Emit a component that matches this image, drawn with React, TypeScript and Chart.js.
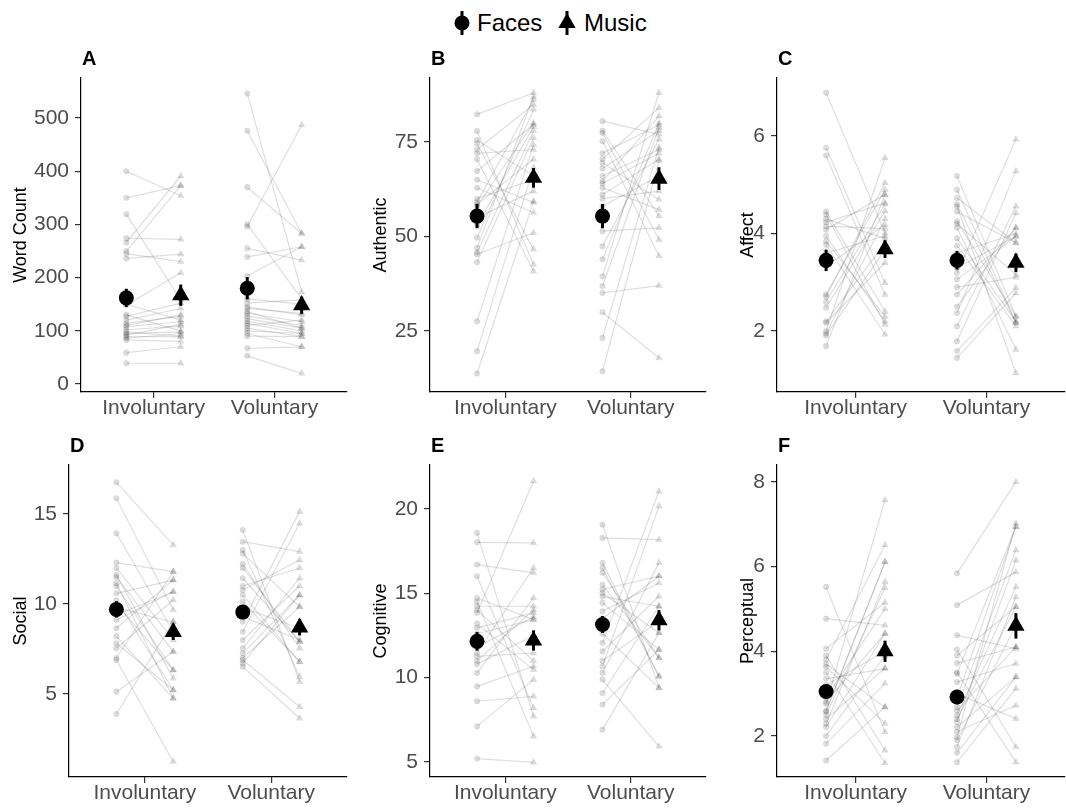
import React, { useEffect, useRef } from "react";
import { Chart, registerables } from "chart.js";

Chart.register(...registerables);

const FONT = '"Liberation Sans", Arial, Helvetica, sans-serif';
const conditions = ["Involuntary", "Voluntary"];
const legendLabels = ["Faces", "Music"];

// ---------- A: Word Count ----------
const wordInvFaces = [400, 350, 319, 274, 266, 250, 236, 245, 148, 127, 120, 114, 108, 102, 95, 89, 83, 59, 39, 150, 130, 110, 98, 92, 86];
const wordInvMusic = [354, 373, 158, 272, 391, 373, 244, 230, 209, 152, 142, 127, 117, 109, 98, 89, 80, 70, 39, 120, 100, 130, 90, 112, 95];
const wordVolFaces = [546, 476, 370, 296, 255, 239, 203, 152, 142, 133, 123, 114, 105, 95, 67, 53, 160, 128, 118, 100, 110, 90, 300, 145, 136];
const wordVolMusic = [173, 283, 283, 487, 233, 258, 258, 158, 133, 117, 105, 95, 89, 70, 70, 20, 150, 110, 100, 95, 120, 89, 160, 130, 105];
const wordMeans = [162, 167, 180, 148];
const wordSE = [17, 20, 21, 16];
const wordTicks = [0, 100, 200, 300, 400, 500];

// ---------- B: Authentic ----------
const authInvFaces = [82.3, 77.9, 74.6, 73.0, 70.4, 67.3, 62.9, 59.1, 58.5, 49.7, 45.8, 45.3, 43.2, 27.6, 19.7, 13.8, 72.0, 60.0, 55.0, 53.0, 65.0, 47.0, 75.5, 58.0];
const authInvMusic = [88.0, 42.6, 46.6, 84.9, 40.8, 79.6, 56.3, 86.2, 70.4, 83.6, 77.9, 51.0, 76.1, 74.3, 68.2, 59.3, 73.0, 65.0, 62.0, 79.0, 59.0, 87.0, 66.0, 80.0];
const authVolFaces = [80.5, 77.4, 75.2, 70.5, 69.5, 66.0, 64.6, 62.9, 61.1, 51.4, 47.4, 39.5, 36.9, 35.1, 30.0, 23.2, 14.4, 78.0, 72.0, 60.0, 68.0, 58.0, 44.0, 64.0];
const authVolMusic = [77.0, 49.2, 44.9, 84.0, 59.8, 73.0, 81.8, 57.1, 70.4, 52.3, 75.7, 88.0, 78.8, 37.0, 17.9, 73.5, 70.0, 55.4, 79.5, 62.0, 78.0, 66.0, 80.0, 72.0];
const authMeans = [55.4, 65.5, 55.4, 65.3];
const authSE = [3.2, 2.6, 3.2, 3.0];
const authTicks = [25, 50, 75];

// ---------- C: Affect ----------
const affInvFaces = [6.89, 5.76, 5.6, 4.39, 4.23, 4.08, 3.84, 3.77, 3.33, 2.71, 2.48, 2.17, 2.0, 1.91, 1.69, 4.3, 3.95, 4.15, 2.75, 2.2, 3.6, 4.45, 2.6, 1.95];
const affInvMusic = [4.01, 2.99, 2.75, 2.13, 4.63, 4.8, 2.3, 1.93, 4.18, 5.04, 4.46, 3.4, 5.55, 3.67, 4.8, 3.9, 2.2, 4.1, 4.9, 3.8, 3.95, 2.4, 4.6, 4.3];
const affVolFaces = [5.18, 4.9, 4.73, 4.56, 4.25, 4.12, 3.19, 3.06, 2.75, 2.37, 2.1, 1.79, 1.59, 1.45, 4.6, 4.2, 3.6, 3.3, 2.5, 3.9, 4.45, 2.9, 3.75];
const affVolMusic = [2.3, 2.17, 3.81, 1.14, 2.3, 1.62, 5.93, 3.94, 4.12, 5.28, 4.56, 4.42, 2.89, 2.78, 2.17, 3.16, 4.0, 3.94, 4.12, 2.2, 3.81, 3.1, 2.1];
const affMeans = [3.45, 3.68, 3.45, 3.4];
const affSE = [0.22, 0.18, 0.19, 0.19];
const affTicks = [2, 4, 6];

// ---------- D: Social ----------
const socInvFaces = [16.76, 15.87, 13.93, 12.3, 11.61, 11.15, 10.59, 9.11, 8.65, 7.82, 7.54, 6.89, 5.13, 3.89, 11.0, 10.2, 9.4, 12.0, 8.2, 11.5, 10.0, 7.0, 9.8];
const socInvMusic = [13.28, 9.67, 8.46, 11.8, 5.87, 4.76, 11.33, 10.68, 11.33, 5.22, 10.22, 1.24, 7.35, 9.02, 6.33, 5.22, 10.68, 8.0, 4.76, 7.35, 6.33, 11.8, 9.0];
const socVolFaces = [14.11, 13.46, 13.0, 12.22, 11.43, 10.78, 10.13, 9.02, 8.46, 7.54, 7.26, 6.89, 6.52, 12.8, 11.0, 9.8, 8.0, 7.0, 10.5, 12.0, 6.7, 9.3];
const socVolMusic = [5.68, 12.91, 5.96, 7.54, 7.91, 12.44, 6.79, 15.13, 14.48, 11.43, 10.5, 4.29, 3.65, 9.85, 12.0, 8.65, 11.0, 9.85, 6.79, 7.91, 10.5, 8.0];
const socMeans = [9.7, 8.45, 9.55, 8.7];
const socSE = [0.45, 0.45, 0.38, 0.45];
const socTicks = [5, 10, 15];

// ---------- E: Cognitive ----------
const cogInvFaces = [18.58, 18.02, 16.7, 16.01, 14.72, 14.23, 13.84, 12.95, 11.46, 11.26, 10.28, 9.48, 8.6, 7.11, 5.2, 14.5, 12.6, 11.0, 13.2, 10.8, 11.8, 14.0];
const cogInvMusic = [7.71, 17.98, 16.21, 8.2, 13.44, 14.23, 21.64, 13.84, 16.5, 11.46, 14.72, 10.67, 8.89, 9.88, 4.98, 6.52, 13.44, 14.0, 10.47, 12.5, 13.6, 11.0];
const cogVolFaces = [19.07, 18.28, 16.8, 16.21, 15.22, 15.02, 14.43, 13.93, 12.06, 11.56, 10.67, 10.28, 9.88, 9.09, 8.4, 6.92, 15.5, 13.5, 12.6, 14.8, 11.0, 16.5];
const cogVolMusic = [9.39, 18.18, 10.08, 11.17, 16.01, 12.65, 11.66, 15.61, 21.04, 14.82, 20.15, 16.8, 5.93, 14.23, 11.66, 12.65, 11.17, 16.01, 9.39, 14.23, 13.34, 10.08];
const cogMeans = [12.15, 12.2, 13.15, 13.4];
const cogSE = [0.55, 0.6, 0.5, 0.6];
const cogTicks = [5, 10, 15, 20];

// ---------- F: Perceptual ----------
const perInvFaces = [5.52, 4.77, 4.06, 3.8, 3.63, 3.35, 2.76, 2.57, 2.29, 2.21, 1.82, 1.42, 3.9, 3.5, 2.9, 2.4, 3.2, 2.0, 2.6, 3.7, 2.8, 2.5];
const perInvMusic = [2.09, 4.61, 5.15, 6.51, 2.29, 3.59, 7.57, 6.11, 5.64, 4.42, 3.24, 2.68, 1.66, 1.36, 5.0, 3.6, 4.0, 3.9, 6.11, 2.68, 4.42, 5.5];
const perVolFaces = [5.84, 5.09, 4.38, 4.04, 3.72, 3.47, 3.27, 2.68, 2.49, 2.33, 2.21, 1.97, 1.74, 1.38, 3.0, 2.6, 3.9, 2.1, 2.9, 3.5, 1.9, 2.4, 1.6];
const perVolMusic = [8.0, 5.87, 4.06, 1.74, 4.1, 6.94, 3.71, 6.39, 5.52, 6.15, 3.39, 7.02, 5.28, 3.12, 2.41, 4.1, 5.05, 2.72, 6.94, 1.38, 4.61, 5.05, 3.39];
const perMeans = [3.05, 4.0, 2.92, 4.6];
const perSE = [0.12, 0.25, 0.17, 0.3];
const perTicks = [2, 4, 6, 8];

type Area = { left: number; right: number; top: number; bottom: number };
type PanelCfg = {
  letter: string;
  yTitle: string;
  yMin: number;
  yMax: number;
  yTicks: number[];
  invFaces: number[];
  invMusic: number[];
  volFaces: number[];
  volMusic: number[];
  means: number[];
  ses: number[];
  area: Area;
  yAxisW: number;
};

const ROW1 = { top: 78, bottom: 392 };
const ROW2 = { top: 465, bottom: 777 };

const panels: PanelCfg[] = [
  { letter: "A", yTitle: "Word Count", yMin: -15, yMax: 575.2, yTicks: wordTicks, invFaces: wordInvFaces, invMusic: wordInvMusic, volFaces: wordVolFaces, volMusic: wordVolMusic, means: wordMeans, ses: wordSE, area: { left: 81, right: 353, ...ROW1 }, yAxisW: 71 },
  { letter: "B", yTitle: "Authentic", yMin: 8.9, yMax: 91.9, yTicks: authTicks, invFaces: authInvFaces, invMusic: authInvMusic, volFaces: authVolFaces, volMusic: authVolMusic, means: authMeans, ses: authSE, area: { left: 430, right: 712, ...ROW1 }, yAxisW: 60 },
  { letter: "C", yTitle: "Affect", yMin: 0.75, yMax: 7.19, yTicks: affTicks, invFaces: affInvFaces, invMusic: affInvMusic, volFaces: affVolFaces, volMusic: affVolMusic, means: affMeans, ses: affSE, area: { left: 777, right: 1071, ...ROW1 }, yAxisW: 40 },
  { letter: "D", yTitle: "Social", yMin: 0.39, yMax: 17.72, yTicks: socTicks, invFaces: socInvFaces, invMusic: socInvMusic, volFaces: socVolFaces, volMusic: socVolMusic, means: socMeans, ses: socSE, area: { left: 69, right: 353, ...ROW2 }, yAxisW: 59 },
  { letter: "E", yTitle: "Cognitive", yMin: 4.11, yMax: 22.6, yTicks: cogTicks, invFaces: cogInvFaces, invMusic: cogInvMusic, volFaces: cogVolFaces, volMusic: cogVolMusic, means: cogMeans, ses: cogSE, area: { left: 430, right: 712, ...ROW2 }, yAxisW: 60 },
  { letter: "F", yTitle: "Perceptual", yMin: 1.03, yMax: 8.4, yTicks: perTicks, invFaces: perInvFaces, invMusic: perInvMusic, volFaces: perVolFaces, volMusic: perVolMusic, means: perMeans, ses: perSE, area: { left: 777, right: 1071, ...ROW2 }, yAxisW: 40 },
];

const DODGE = 0.225;
const TOP_PAD = 38;
const X_AXIS_H = 40;
const RIGHT_PAD = 4;
const LINE_COL = "rgba(0,0,0,0.13)";
const PT_COL = "rgba(0,0,0,0.13)";

function PanelChart({ cfg }: { cfg: PanelCfg }) {
  const ref = useRef<HTMLCanvasElement | null>(null);
  const w = cfg.yAxisW + (cfg.area.right - cfg.area.left) + RIGHT_PAD;
  const h = TOP_PAD + (cfg.area.bottom - cfg.area.top) + X_AXIS_H;
  const left = cfg.area.left - cfg.yAxisW;
  const top = cfg.area.top - TOP_PAD;

  useEffect(() => {
    if (!ref.current) return;
    const datasets: any[] = [];
    datasets.push({
      data: [
        { x: 1 - DODGE, y: cfg.means[0] },
        { x: 2 - DODGE, y: cfg.means[2] },
      ],
      pointStyle: "circle",
      pointRadius: 7.5,
      backgroundColor: "#000",
      borderColor: "#000",
      borderWidth: 0,
      showLine: false,
    });
    datasets.push({
      data: [
        { x: 1 + DODGE, y: cfg.means[1] },
        { x: 2 + DODGE, y: cfg.means[3] },
      ],
      pointStyle: "triangle",
      pointRadius: 10,
      backgroundColor: "#000",
      borderColor: "#000",
      borderWidth: 0,
      showLine: false,
    });
    datasets.push({
      data: [
        ...cfg.invFaces.map((v) => ({ x: 1 - DODGE, y: v })),
        ...cfg.volFaces.map((v) => ({ x: 2 - DODGE, y: v })),
      ],
      pointStyle: "circle",
      pointRadius: 2.8,
      backgroundColor: PT_COL,
      borderColor: PT_COL,
      borderWidth: 0.5,
      showLine: false,
    });
    datasets.push({
      data: [
        ...cfg.invMusic.map((v) => ({ x: 1 + DODGE, y: v })),
        ...cfg.volMusic.map((v) => ({ x: 2 + DODGE, y: v })),
      ],
      pointStyle: "triangle",
      pointRadius: 3.8,
      backgroundColor: PT_COL,
      borderColor: PT_COL,
      borderWidth: 0.5,
      showLine: false,
    });
    const addPairs = (xc: number, F: number[], M: number[]) => {
      F.forEach((f, i) => {
        datasets.push({
          data: [
            { x: xc - DODGE, y: f },
            { x: xc + DODGE, y: M[i] },
          ],
          showLine: true,
          borderColor: LINE_COL,
          borderWidth: 1.2,
          pointRadius: 0,
          fill: false,
        });
      });
    };
    addPairs(1, cfg.invFaces, cfg.invMusic);
    addPairs(2, cfg.volFaces, cfg.volMusic);

    const errorBars = {
      id: "errorBars",
      afterDatasetsDraw(chart: any) {
        const xs = chart.scales.x;
        const ys = chart.scales.y;
        const ctx = chart.ctx;
        const items = [
          { x: 1 - DODGE, m: cfg.means[0], s: cfg.ses[0] },
          { x: 1 + DODGE, m: cfg.means[1], s: cfg.ses[1] },
          { x: 2 - DODGE, m: cfg.means[2], s: cfg.ses[2] },
          { x: 2 + DODGE, m: cfg.means[3], s: cfg.ses[3] },
        ];
        ctx.save();
        ctx.strokeStyle = "#000";
        ctx.lineWidth = 3;
        items.forEach((it) => {
          const px = xs.getPixelForValue(it.x);
          ctx.beginPath();
          ctx.moveTo(px, ys.getPixelForValue(it.m - it.s));
          ctx.lineTo(px, ys.getPixelForValue(it.m + it.s));
          ctx.stroke();
        });
        ctx.restore();
      },
    };
    const letterPlugin = {
      id: "panelLetter",
      afterDraw(chart: any) {
        const ctx = chart.ctx;
        ctx.save();
        ctx.font = `bold 20px ${FONT}`;
        ctx.fillStyle = "#000";
        ctx.textAlign = "left";
        ctx.textBaseline = "alphabetic";
        ctx.fillText(cfg.letter, chart.chartArea.left + 1, chart.chartArea.top - 13);
        ctx.restore();
      },
    };

    const axisCommon = {
      grid: { drawOnChartArea: false, drawTicks: true, tickLength: 6, color: "#333", lineWidth: 1.2 },
      border: { display: true, color: "#000", width: 1.2 },
    };

    const chart = new Chart(ref.current, {
      type: "scatter",
      data: { datasets },
      options: {
        animation: false,
        responsive: false,
        maintainAspectRatio: false,
        events: [],
        layout: { padding: { top: TOP_PAD, right: RIGHT_PAD, left: 0, bottom: 0 } },
        plugins: { legend: { display: false }, tooltip: { enabled: false }, title: { display: false } },
        scales: {
          x: {
            type: "linear",
            min: 0.4,
            max: 2.6,
            afterBuildTicks: (s: any) => {
              s.ticks = [{ value: 1 }, { value: 2 }];
            },
            afterFit: (s: any) => {
              s.height = X_AXIS_H;
            },
            ticks: {
              callback: (v: any) => (v === 1 ? conditions[0] : v === 2 ? conditions[1] : ""),
              font: { family: FONT, size: 21 },
              color: "#4d4d4d",
              padding: -2,
              autoSkip: false,
              maxRotation: 0,
            },
            ...axisCommon,
          },
          y: {
            type: "linear",
            min: cfg.yMin,
            max: cfg.yMax,
            afterBuildTicks: (s: any) => {
              s.ticks = cfg.yTicks.map((v) => ({ value: v }));
            },
            afterFit: (s: any) => {
              s.width = cfg.yAxisW;
            },
            ticks: {
              font: { family: FONT, size: 21 },
              color: "#4d4d4d",
              padding: 6,
            },
            title: {
              display: true,
              text: cfg.yTitle,
              font: { family: FONT, size: 18 },
              color: "#000",
              padding: 0,
            },
            ...axisCommon,
          },
        },
      } as any,
      plugins: [errorBars, letterPlugin],
    });
    return () => chart.destroy();
  }, [cfg]);

  return (
    <canvas
      ref={ref}
      width={w}
      height={h}
      style={{ position: "absolute", left, top, width: w, height: h }}
    />
  );
}

function Legend() {
  const textStyle: React.CSSProperties = {
    position: "absolute",
    top: 8,
    fontFamily: FONT,
    fontSize: 24,
    lineHeight: "30px",
    color: "#000",
    whiteSpace: "nowrap",
  };
  return (
    <>
      <svg
        width={140}
        height={34}
        style={{ position: "absolute", left: 450, top: 6 }}
      >
        <circle cx={12} cy={17} r={7.5} fill="#000" />
        <line x1={12} x2={12} y1={5} y2={29} stroke="#000" strokeWidth={3} />
        <polygon points="117,7 125.7,22 108.3,22" fill="#000" />
        <line x1={117} x2={117} y1={5} y2={29} stroke="#000" strokeWidth={3} />
      </svg>
      <span style={{ ...textStyle, left: 477 }}>{legendLabels[0]}</span>
      <span style={{ ...textStyle, left: 584 }}>{legendLabels[1]}</span>
    </>
  );
}

export default function App() {
  return (
    <div
      style={{
        position: "fixed",
        left: 0,
        top: 0,
        width: 1066,
        height: 809,
        overflow: "hidden",
        background: "#fff",
      }}
    >
      <Legend />
      {panels.map((p) => (
        <PanelChart key={p.letter} cfg={p} />
      ))}
    </div>
  );
}
